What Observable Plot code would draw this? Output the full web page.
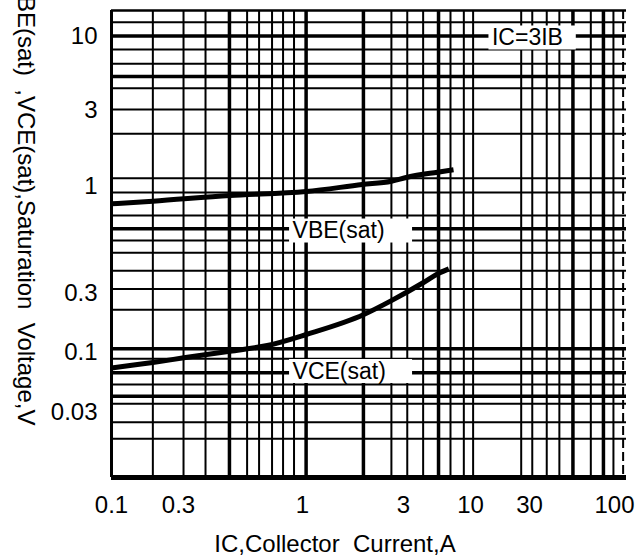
<!DOCTYPE html>
<html><head><meta charset="utf-8">
<script src="https://cdn.jsdelivr.net/npm/d3@7"></script>
<script src="https://cdn.jsdelivr.net/npm/@observablehq/plot@0.6"></script>
<style>body{margin:0;background:#fff}</style>
</head><body><div id="chart"></div>
<script>
// Axis tick labels
const xTicks = [0.1, 0.3, 1, 3, 10, 30, 100];
const yTicks = [0.03, 0.1, 0.3, 1, 3, 10];

// Plot-area limits (frame)
const xMin = 0.1, xMax = 113;
const yMin = 0.0081, yMax = 15.3;

// Grid lines (data values)
const gridXThin = [0.197, 0.315, 0.39, 0.584, 0.656, 0.744, 0.828, 0.921, 2.63, 3.21, 4.27, 6.98, 8.87, 10.5, 25.7, 31.2, 38.3, 45.8, 71.5, 98.5];
const gridXThick = [0.492, 1.04, 1.94, 5.63, 55.5, 85.5];
const gridYThin = [12.6, 8.09, 6.41, 4.31, 3.05, 2.14, 1.127, 0.935, 0.722, 0.545, 0.474, 0.388, 0.316, 0.2214, 0.0881, 0.0526, 0.0357, 0.0247, 0.0177];
const gridYThick = [10.1, 5.21, 0.621, 0.107, 0.0665, 0.0416];

// Curves
const vbeIc = [0.1, 0.197, 0.494, 1.04, 1.914, 2.63, 3.21, 5.53, 7.37];
const vbeV  = [0.823, 0.848, 0.904, 0.945, 1.029, 1.08, 1.144, 1.23, 1.273];
const vceIc = [0.1, 0.197, 0.316, 0.494, 0.71, 1.04, 1.949, 2.63, 4.30, 5.56, 6.77];
const vceV  = [0.0733, 0.0818, 0.0899, 0.1024, 0.1139, 0.1398, 0.2029, 0.2628, 0.3395, 0.3745, 0.396];

// Annotations
const labelText = ["VBE(sat)", "VCE(sat)", "IC=3IB"];
const labelX1 = [0.882, 0.882, 14.1];
const labelX2 = [3.53, 3.53, 58.2];
const labelY = [0.606, 0.0683, 9.76];

const xTitle = "IC,Collector\u00a0\u00a0Current,A";
const yTitle = "VBE(sat)\u00a0\u00a0,VCE(sat),Saturation\u00a0\u00a0Voltage,V";

const vbe = vbeIc.map((x, i) => ({x, y: vbeV[i]}));
const vce = vceIc.map((x, i) => ({x, y: vceV[i]}));
const labels = labelText.map((t, i) => ({t, x1: labelX1[i], x2: labelX2[i], y: labelY[i]}));

const chart = Plot.plot({
  width: 636, height: 560,
  marginLeft: 111, marginRight: 10, marginTop: 10, marginBottom: 83,
  style: {fontFamily: "'Liberation Sans', Arial, sans-serif", fontSize: "24px", background: "#fff", color: "#000"},
  x: {type: "log", domain: [0.1, 0.3, 1, 3, 10, 30, 100], range: [111, 178, 302, 403, 470, 529, 614],
      ticks: xTicks, tickFormat: d => String(d), tickSize: 0, tickPadding: 18, label: null},
  y: {type: "log", domain: [0.0081, 0.03, 0.1, 0.3, 1, 3, 10, 15.3], range: [477, 412, 352, 293, 186, 110, 36, 10],
      ticks: yTicks, tickFormat: d => String(d), tickSize: 0, tickPadding: 14, label: null},
  marks: [
    Plot.ruleX(gridXThin, {stroke: "#000", strokeWidth: 2}),
    Plot.ruleX(gridXThick, {stroke: "#000", strokeWidth: 3.5}),
    Plot.ruleY(gridYThin, {stroke: "#000", strokeWidth: 2}),
    Plot.ruleY(gridYThick, {stroke: "#000", strokeWidth: 3.5}),
    Plot.ruleX([xMin], {stroke: "#000", strokeWidth: 3}),
    Plot.ruleX([xMax], {stroke: "#000", strokeWidth: 2, strokeDasharray: "9,4"}),
    Plot.ruleY([yMax], {stroke: "#000", strokeWidth: 2.5}),
    Plot.ruleY([yMin], {stroke: "#000", strokeWidth: 5}),
    Plot.line(vbe, {x: "x", y: "y", stroke: "#000", strokeWidth: 5, curve: "monotone-x", strokeLinecap: "butt"}),
    Plot.line(vce, {x: "x", y: "y", stroke: "#000", strokeWidth: 5, curve: "monotone-x", strokeLinecap: "butt"}),
    Plot.rect(labels, {x1: "x1", x2: "x2", y1: "y", y2: "y", insetTop: -12, insetBottom: -12, fill: "#fff"}),
    Plot.text(labels, {x: "x1", y: "y", text: "t", dx: 3, textAnchor: "start", fontSize: 23, fill: "#000"}),
    Plot.text([xTitle], {text: d => d, frameAnchor: "bottom", dx: -34, dy: 74, fontSize: 24, fill: "#000"}),
    Plot.text([yTitle], {text: d => d, frameAnchor: "bottom-left", dx: -94, dy: -52, rotate: 90, textAnchor: "end", fontSize: 24, fill: "#000"})
  ]
});
document.getElementById("chart").appendChild(chart);
</script>
</body></html>
